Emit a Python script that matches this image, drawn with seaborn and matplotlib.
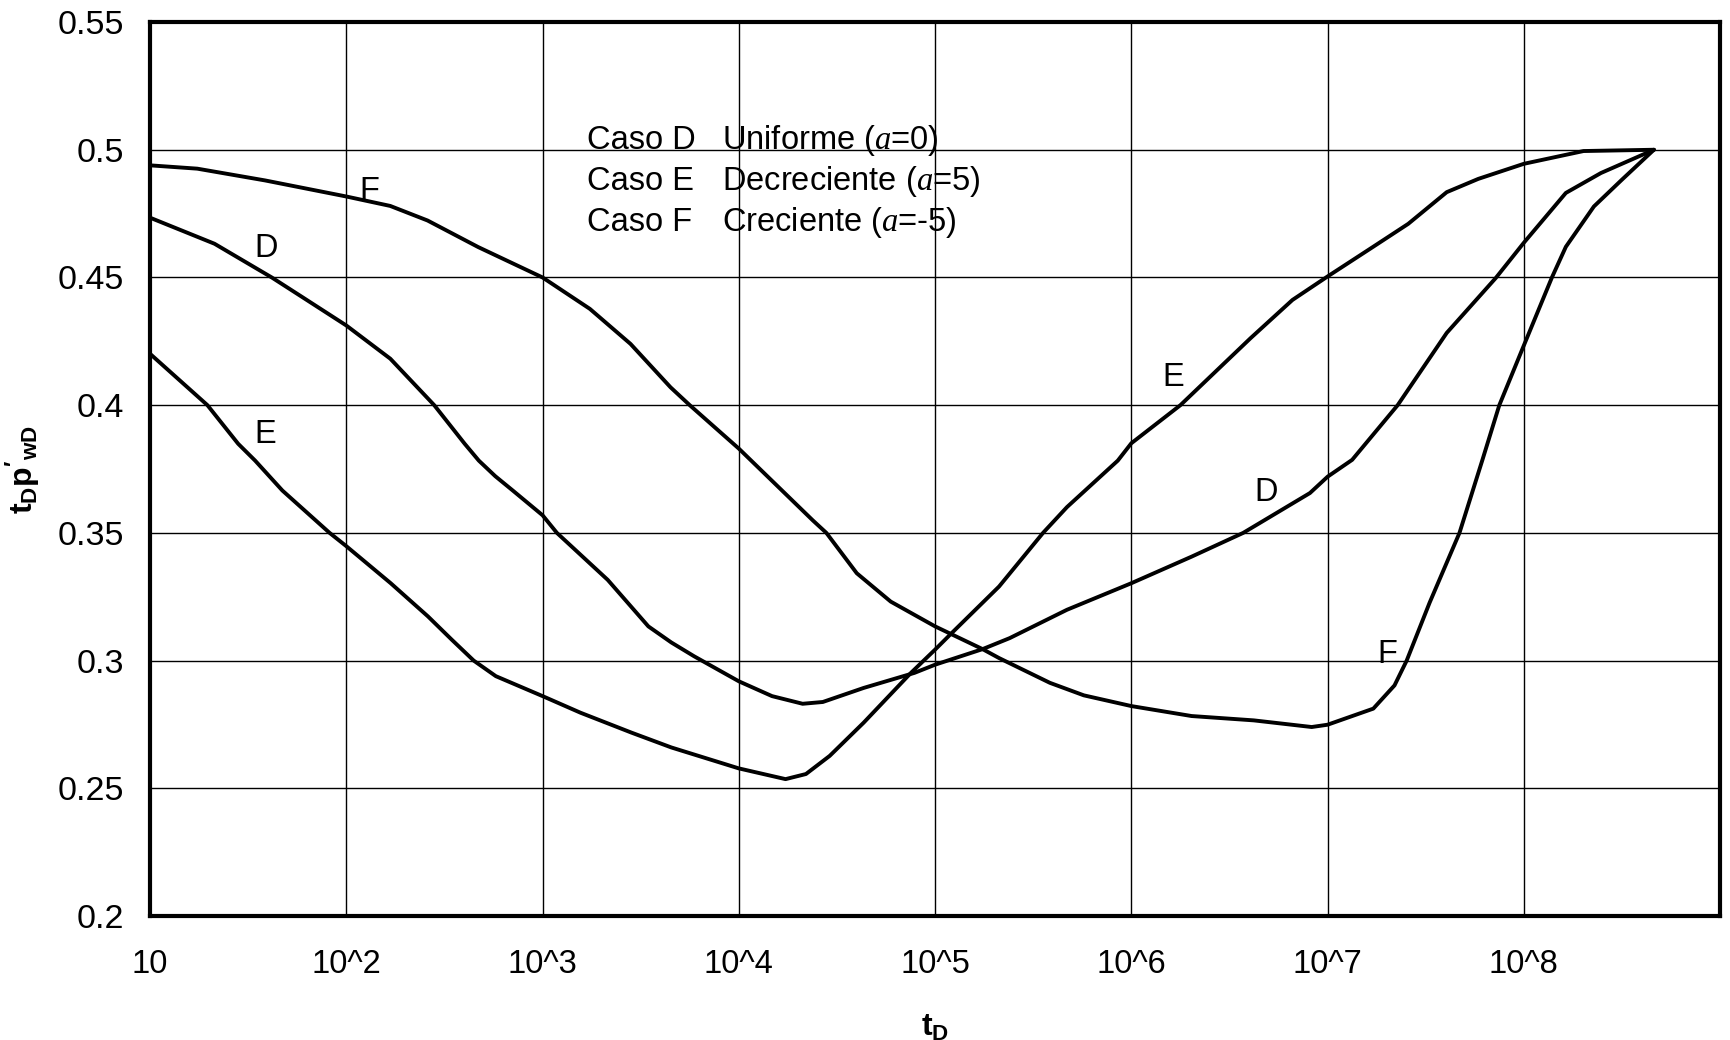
import matplotlib
matplotlib.use("Agg")
import matplotlib.pyplot as plt
from matplotlib.ticker import NullLocator
import pandas as pd
import seaborn as sns

# Caso D - Uniforme (a = 0)
t_uniforme = [10, 21.3, 41.7, 59.7, 100, 167.5, 280.5, 400.9, 473.2, 574.1, 704.7,
              1000, 1183, 2148, 3459, 4529, 5916,
              1.0e4, 1.476e4, 2.114e4, 2.679e4, 4.325e4, 7.852e4,
              1.0e5, 1.746e5, 2.399e5, 4.699e5,
              1.0e6, 2.028e6, 3.715e6, 8.128e6,
              1.0e7, 1.334e7, 2.275e7, 4.046e7, 7.194e7,
              1.0e8, 1.637e8, 2.472e8, 4.6e8]
p_uniforme = [0.4734, 0.4632, 0.450, 0.4423, 0.4312, 0.4182, 0.400, 0.3849, 0.3783, 0.3722, 0.3666,
              0.3569, 0.350, 0.3316, 0.3134, 0.3071, 0.3017,
              0.2919, 0.2861, 0.2831, 0.2838, 0.2893, 0.2952,
              0.2984, 0.3045, 0.3088, 0.3199,
              0.3303, 0.3407, 0.350, 0.3656,
              0.372, 0.3786, 0.400, 0.4283, 0.4498,
              0.4636, 0.4831, 0.4909, 0.500]

# Caso E - Decreciente (a = 5)
t_decreciente = [10, 19.6, 28.1, 34.3, 47.2, 82.2,
                 100, 168.3, 260.6, 344.4, 445.7, 578.1,
                 1000, 1560, 2838, 4529,
                 1.0e4, 1.730e4, 2.198e4, 2.904e4, 4.325e4, 7.534e4,
                 1.0e5, 1.216e5, 2.118e5, 3.548e5, 4.699e5, 8.531e5,
                 1.0e6, 1.778e6, 4.046e6, 6.622e6,
                 1.0e7, 1.706e7, 2.576e7, 4.046e7, 5.861e7,
                 1.0e8, 2.014e8, 4.6e8]
p_decreciente = [0.4201, 0.400, 0.3849, 0.3783, 0.3666, 0.350,
                 0.3448, 0.3303, 0.3173, 0.3082, 0.300, 0.2939,
                 0.2861, 0.2796, 0.2718, 0.266,
                 0.2578, 0.2536, 0.2556, 0.2627, 0.2757, 0.2952,
                 0.3043, 0.3108, 0.329, 0.350, 0.3601, 0.3783,
                 0.3851, 0.400, 0.4262, 0.4412,
                 0.4504, 0.462, 0.471, 0.4834, 0.4886,
                 0.4945, 0.4995, 0.500]

# Caso F - Creciente (a = -5)
t_creciente = [10, 17.4, 38.5, 100, 167.5, 259.4, 469.9,
               1000, 1742, 2805, 4487, 5623,
               1.0e4, 2.382e4, 2.793e4, 3.990e4, 5.943e4,
               1.0e5, 1.746e5, 2.118e5, 3.846e5, 5.728e5,
               1.0e6, 2.028e6, 4.207e6, 8.299e6,
               1.0e7, 1.710e7, 2.193e7, 2.529e7, 3.311e7, 4.699e7, 6.152e7, 7.499e7, 9.795e7,
               1.390e8, 1.637e8, 2.275e8, 3.162e8, 4.6e8]
p_creciente = [0.4939, 0.4926, 0.488, 0.4817, 0.478, 0.4723, 0.4619,
               0.450, 0.4377, 0.424, 0.407, 0.400,
               0.383, 0.3549, 0.350, 0.3342, 0.3231,
               0.3134, 0.3045, 0.301, 0.2913, 0.2864,
               0.2822, 0.2783, 0.2766, 0.274,
               0.2749, 0.2812, 0.2903, 0.300, 0.3227, 0.350, 0.3786, 0.400, 0.4217,
               0.450, 0.462, 0.4778, 0.4883, 0.500]

x_ticks = [1e1, 1e2, 1e3, 1e4, 1e5, 1e6, 1e7, 1e8]
x_tick_labels = ["10", "10^2", "10^3", "10^4", "10^5", "10^6", "10^7", "10^8"]
y_ticks = [0.2, 0.25, 0.3, 0.35, 0.4, 0.45, 0.5, 0.55]
y_tick_labels = ["0.2", "0.25", "0.3", "0.35", "0.4", "0.45", "0.5", "0.55"]

casos = ["Caso D", "Caso E", "Caso F"]
descripciones = [r"Uniforme ($a$=0)", r"Decreciente ($a$=5)", r"Creciente ($a$=-5)"]

df = pd.concat([
    pd.DataFrame({"t_D": t_uniforme, "valor": p_uniforme, "caso": "D"}),
    pd.DataFrame({"t_D": t_decreciente, "valor": p_decreciente, "caso": "E"}),
    pd.DataFrame({"t_D": t_creciente, "valor": p_creciente, "caso": "F"}),
], ignore_index=True)

sns.set_style("white")
plt.rcParams["font.family"] = ["Liberation Sans", "DejaVu Sans"]
plt.rcParams["mathtext.fontset"] = "custom"
plt.rcParams["mathtext.rm"] = "Liberation Sans"
plt.rcParams["mathtext.sf"] = "Liberation Sans"
plt.rcParams["mathtext.bf"] = "Liberation Sans:bold"
plt.rcParams["mathtext.it"] = "Liberation Serif:italic"

fig = plt.figure(figsize=(17.31, 10.40), dpi=100)
ax = fig.add_axes([0.0867, 0.1192, 0.9070, 0.8596])

sns.lineplot(data=df, x="t_D", y="valor", units="caso", estimator=None,
             sort=False, color="black", linewidth=2.8, legend=False, ax=ax,
             solid_joinstyle="round", solid_capstyle="round")

ax.set_xscale("log")
ax.set_xlim(10, 1e9)
ax.set_ylim(0.2, 0.55)

ax.set_xticks(x_ticks)
ax.set_xticklabels(x_tick_labels)
ax.xaxis.set_minor_locator(NullLocator())
ax.set_yticks(y_ticks)
ax.set_yticklabels(y_tick_labels)

ax.set_axisbelow(True)
ax.grid(True, which="major", color="black", linewidth=1.0)

for spine in ax.spines.values():
    spine.set_visible(True)
    spine.set_color("black")
    spine.set_linewidth(3)

ax.tick_params(axis="both", which="major", direction="out", length=7, width=2.5,
               color="black", labelcolor="black")
ax.tick_params(axis="x", pad=17, labelsize=23.5)
ax.tick_params(axis="y", pad=12, labelsize=24.5)

ax.set_xlabel(r"$\mathbf{t_D}$", fontsize=23, color="black")
ax.xaxis.set_label_coords(0.5, -0.1085)
ax.set_ylabel(r"$\mathbf{t_Dp'_{wD}}$", fontsize=23, color="black")
ax.yaxis.set_label_coords(-0.069, 0.5)

# Case descriptions
for row_y, caso, desc in zip([0.867, 0.8215, 0.776], casos, descripciones):
    ax.text(0.2783, row_y, caso, transform=ax.transAxes, ha="left", va="center",
            fontsize=23.5, color="black")
    ax.text(0.3643, row_y, desc, transform=ax.transAxes, ha="left", va="center",
            fontsize=23.5, color="black")

# Curve tags
curve_tags = [("F", 0.1395, 0.810), ("D", 0.0738, 0.7467), ("E", 0.0732, 0.539),
              ("E", 0.6515, 0.6021), ("D", 0.7108, 0.4736), ("F", 0.7881, 0.293)]
for tag, tx, ty in curve_tags:
    ax.text(tx, ty, tag, transform=ax.transAxes, ha="center", va="center",
            fontsize=23.5, color="black")

fig.savefig("out.png", dpi=100)
